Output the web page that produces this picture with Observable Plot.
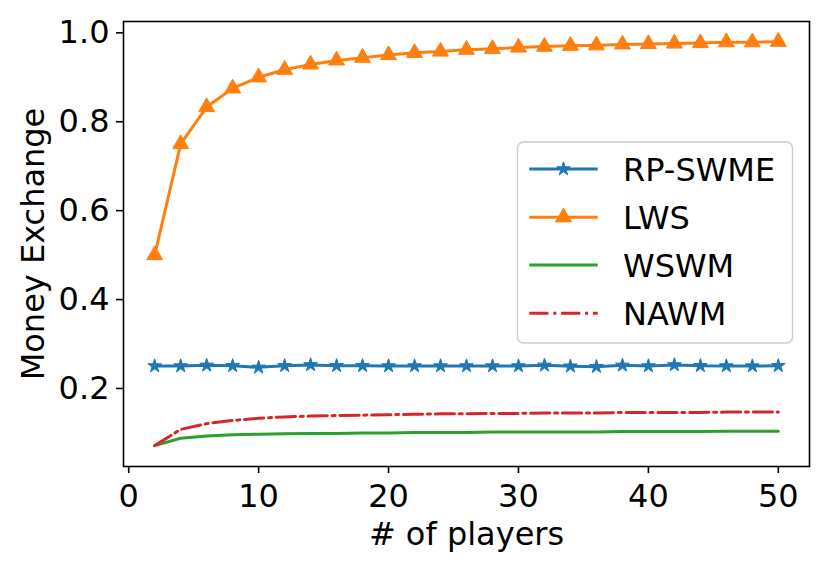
<!DOCTYPE html>
<html>
<head>
<meta charset="utf-8">
<script src="https://cdn.jsdelivr.net/npm/d3@7"></script>
<script src="https://cdn.jsdelivr.net/npm/@observablehq/plot@0.6"></script>
<style>
  html, body { margin: 0; padding: 0; background: white; }
  #wrap { position: relative; width: 830px; height: 568px; }
  #wrap svg { position: absolute; left: 0; top: 0; }
</style>
</head>
<body>
<div id="wrap"></div>
<script>
// ---- data ----
const players = [2,4,6,8,10,12,14,16,18,20,22,24,26,28,30,32,34,36,38,40,42,44,46,48,50];
const rpSwme = [0.2505,0.2505,0.252,0.251,0.2475,0.251,0.253,0.251,0.251,0.2505,0.2505,0.2505,0.2505,0.2505,0.2505,0.252,0.250,0.249,0.252,0.2505,0.253,0.251,0.2505,0.2505,0.251];
const lws = [0.5,0.75,0.833,0.875,0.9,0.917,0.929,0.938,0.944,0.95,0.955,0.958,0.962,0.964,0.967,0.969,0.971,0.972,0.974,0.975,0.976,0.977,0.979,0.979,0.98];
const wswm = [0.0715,0.088,0.093,0.096,0.097,0.098,0.099,0.099,0.100,0.100,0.101,0.101,0.101,0.102,0.102,0.102,0.102,0.102,0.103,0.103,0.103,0.103,0.104,0.104,0.104];
const nawm = [0.0715,0.108,0.121,0.128,0.133,0.136,0.138,0.139,0.140,0.141,0.142,0.143,0.143,0.144,0.144,0.145,0.145,0.145,0.146,0.146,0.146,0.146,0.147,0.147,0.147];
const seriesNames = ["RP-SWME","LWS","WSWM","NAWM"];
const xTicks = [0,10,20,30,40,50];
const yTicks = [0.2,0.4,0.6,0.8,1.0];
const xLabel = "# of players";
const yLabel = "Money Exchange";

const colors = {"RP-SWME":"#1f77b4","LWS":"#ff7f0e","WSWM":"#2ca02c","NAWM":"#d62728"};
const dashDot = "19.2,4.8,3,4.8";
const starR = 4.3, triR = 5.9;
const toRows = (vals) => players.map((p,i) => ({x: p, y: vals[i]}));
const rows = {"RP-SWME": toRows(rpSwme), "LWS": toRows(lws), "WSWM": toRows(wswm), "NAWM": toRows(nawm)};

const font = "DejaVu Sans, sans-serif";

const chart = Plot.plot({
  width: 830, height: 568,
  marginLeft: 123, marginRight: 21, marginTop: 21, marginBottom: 102,
  style: {fontFamily: font, fontSize: "32px", background: "white", color: "black", overflow: "visible"},
  x: {domain: [-0.4, 52.4]},
  y: {domain: [0.0245, 1.0255]},
  marks: [
    Plot.axisX({ticks: xTicks, tickSize: 7, tickPadding: 11, fontSize: 32, strokeWidth: 1.6, label: null, tickFormat: d3.format("d")}),
    Plot.axisY({ticks: yTicks, tickSize: 7, tickPadding: 7, fontSize: 32, strokeWidth: 1.6, label: null, tickFormat: d3.format(".1f")}),
    Plot.line(rows["RP-SWME"], {x: "x", y: "y", stroke: colors["RP-SWME"], strokeWidth: 3}),
    Plot.dot(rows["RP-SWME"], {x: "x", y: "y", symbol: "star", r: starR, fill: colors["RP-SWME"], stroke: colors["RP-SWME"], strokeWidth: 1}),
    Plot.line(rows["LWS"], {x: "x", y: "y", stroke: colors["LWS"], strokeWidth: 3}),
    Plot.dot(rows["LWS"], {x: "x", y: "y", symbol: "triangle", r: triR, fill: colors["LWS"], stroke: colors["LWS"], strokeWidth: 1}),
    Plot.line(rows["WSWM"], {x: "x", y: "y", stroke: colors["WSWM"], strokeWidth: 3}),
    Plot.line(rows["NAWM"], {x: "x", y: "y", stroke: colors["NAWM"], strokeWidth: 3, strokeDasharray: dashDot}),
    Plot.frame({stroke: "black", strokeWidth: 1.6}),
    Plot.text([xLabel], {text: d => d, frameAnchor: "bottom", lineAnchor: "middle", textAnchor: "middle", dy: 68, fontSize: 32, fill: "black"}),
    Plot.text([yLabel], {text: d => d, frameAnchor: "left", lineAnchor: "middle", textAnchor: "middle", dx: -90, rotate: -90, fontSize: 32, fill: "black"})
  ]
});
const wrap = document.getElementById("wrap");
wrap.appendChild(chart);

// ---- legend overlay ----
const leg = d3.select(wrap).append("svg")
  .attr("width", 830).attr("height", 568)
  .style("pointer-events", "none");
const box = {x: 517.5, y: 142, w: 275, h: 201};
leg.append("rect")
  .attr("x", box.x).attr("y", box.y).attr("width", box.w).attr("height", box.h)
  .attr("rx", 6).attr("fill", "white").attr("fill-opacity", 0.8)
  .attr("stroke", "#cccccc").attr("stroke-width", 1.4);
const rowY = [169, 217.3, 265, 313.3];
const lineX0 = 529.3, lineX1 = 597.7, textX = 623;
seriesNames.forEach((name, i) => {
  const g = leg.append("g");
  g.append("line")
    .attr("x1", lineX0).attr("x2", lineX1).attr("y1", rowY[i]).attr("y2", rowY[i])
    .attr("stroke", colors[name]).attr("stroke-width", 3)
    .attr("stroke-dasharray", name === "NAWM" ? dashDot : null);
  if (name === "RP-SWME" || name === "LWS") {
    const r = name === "RP-SWME" ? starR : triR;
    const sym = name === "RP-SWME" ? d3.symbolStar : d3.symbolTriangle;
    g.append("path")
      .attr("transform", `translate(${(lineX0 + lineX1) / 2},${rowY[i]})`)
      .attr("d", d3.symbol(sym, Math.PI * r * r)())
      .attr("fill", colors[name]).attr("stroke", colors[name]).attr("stroke-width", 1);
  }
  g.append("text")
    .attr("x", textX).attr("y", rowY[i]).attr("dy", "0.36em")
    .attr("font-family", font).attr("font-size", 32).attr("fill", "black")
    .text(name);
});
</script>
</body>
</html>
